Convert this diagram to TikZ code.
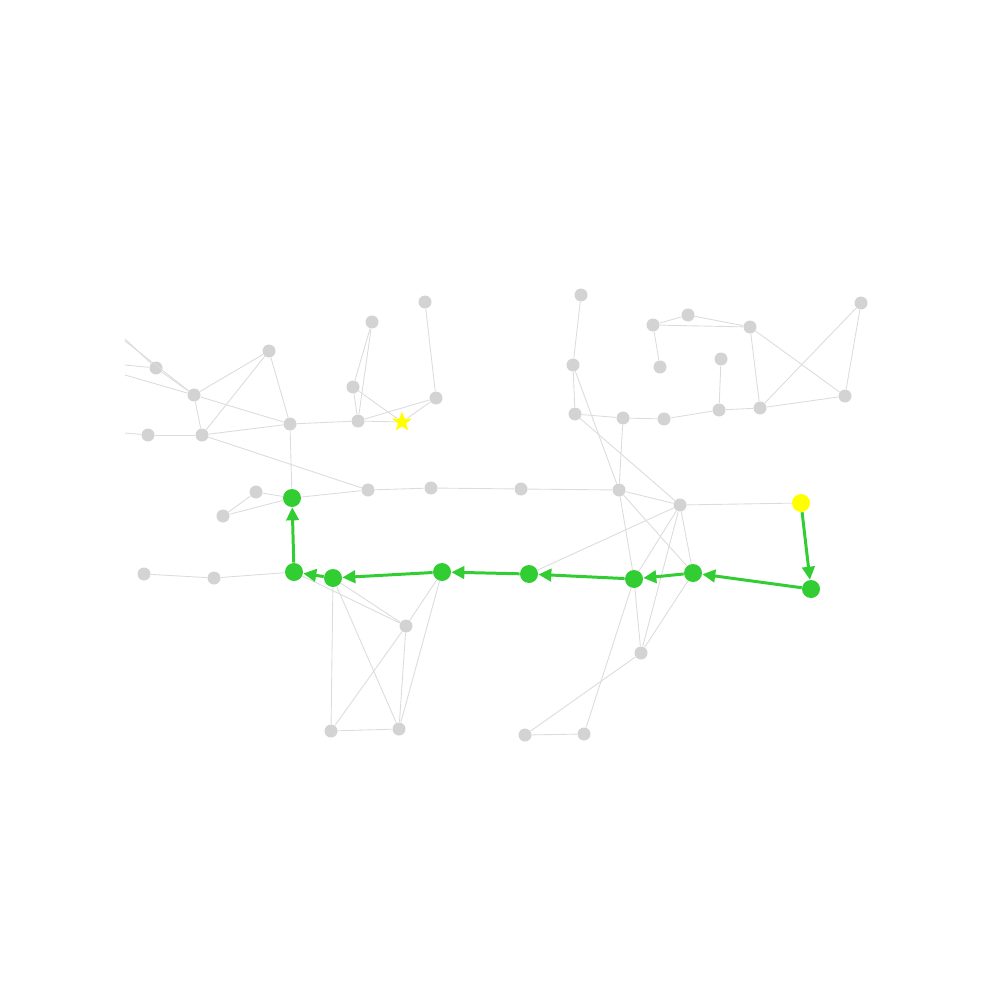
\documentclass[tikz,border=0pt]{standalone}
\usetikzlibrary{arrows.meta,shapes.geometric}
\definecolor{vgray}{HTML}{D3D3D3}
\definecolor{egray}{HTML}{DCDCDC}
\definecolor{pgreen}{HTML}{32CD32}
\definecolor{gyellow}{HTML}{FFFF00}
\begin{document}
\begin{tikzpicture}[x=0.02cm,y=-0.02cm,
  >={Triangle[length=2.6mm,width=2.5mm]},
  vtx/.style={circle, fill=vgray, inner sep=0pt, minimum size=2.6mm},
  hit/.style={circle, fill=pgreen, inner sep=0pt, minimum size=3.6mm},
  goal/.style={circle, fill=gyellow, inner sep=0pt, minimum size=3.6mm},
  src/.style={star, star points=5, star point ratio=2.4, fill=gyellow, inner sep=0pt, minimum size=4.2mm},
  ed/.style={draw=egray, line width=0.5pt},
  pth/.style={draw=pgreen, line width=1.7pt, ->},
]
\useasboundingbox (0,0) rectangle (1000,1000);
% ---------------- off-screen ends ----------------
\coordinate (xa) at (125,339);
\coordinate (xb) at (125,341);
\coordinate (xc) at (125,365);
\coordinate (xd) at (125,375);
\coordinate (xe) at (125,433);
% ---------------- left cluster ----------------
\node[vtx] (a1) at (156,368) {};
\node[vtx] (a2) at (194,395) {};
\node[vtx] (a3) at (269,351) {};
\node[vtx] (a4) at (148,435) {};
\node[vtx] (a5) at (202,435) {};
\node[vtx] (a6) at (290,424) {};
\node[vtx] (a7) at (372,322) {};
\node[vtx] (a8) at (353,387) {};
\node[vtx] (a9) at (358,421) {};
\node[vtx] (a10) at (425,302) {};
\node[vtx] (a11) at (436,398) {};
\node[src] (st) at (402,422) {};
\node[vtx] (a12) at (256,492) {};
\node[vtx] (a13) at (223,516) {};
\node[vtx] (a14) at (368,490) {};
\node[vtx] (a15) at (431,488) {};
\node[vtx] (a16) at (521,489) {};
% ---------------- lower left ----------------
\node[vtx] (c1) at (144,574) {};
\node[vtx] (c2) at (214,578) {};
\node[vtx] (c3) at (406,626) {};
\node[vtx] (c4) at (331,731) {};
\node[vtx] (c5) at (399,729) {};
% ---------------- right cluster ----------------
\node[vtx] (b1) at (619,490) {};
\node[vtx] (b2) at (680,505) {};
\node[vtx] (d1) at (641,653) {};
\node[vtx] (d2) at (525,735) {};
\node[vtx] (d3) at (584,734) {};
\node[vtx] (e1) at (581,295) {};
\node[vtx] (e2) at (573,365) {};
\node[vtx] (e3) at (575,414) {};
\node[vtx] (e4) at (623,418) {};
\node[vtx] (e5) at (664,419) {};
\node[vtx] (e6) at (719,410) {};
\node[vtx] (e7) at (760,408) {};
\node[vtx] (e8) at (845,396) {};
\node[vtx] (e9) at (861,303) {};
\node[vtx] (e10) at (653,325) {};
\node[vtx] (e11) at (688,315) {};
\node[vtx] (e12) at (750,327) {};
\node[vtx] (e13) at (660,367) {};
\node[vtx] (e14) at (721,359) {};
% ---------------- path ----------------
\node[goal] (y) at (801,503) {};
\node[hit] (g9) at (811,589) {};
\node[hit] (g8) at (693,573) {};
\node[hit] (g7) at (634,579) {};
\node[hit] (g6) at (529,574) {};
\node[hit] (g5) at (442,572) {};
\node[hit] (g4) at (333,578) {};
\node[hit] (g3) at (294,572) {};
\node[hit] (g1) at (292,498) {};
% ---------------- edges ----------------
\foreach \u/\v in {xa/a1,xb/a2,xc/a1,xd/a2,xe/a4,a1/a2,a2/a3,a2/a5,a2/a6,a3/a5,a3/a6,
  a4/a5,a5/a6,a5/a14,a6/a9,a6/g1,a7/a8,a7/a9,a8/a9,a8/st,a9/st,a9/a11,a10/a11,a11/st,
  a12/g1,a13/g1,a12/a13,g1/a14,a14/a15,a15/a16,a16/b1,
  c1/c2,c2/g3,g3/c3,g4/c3,g4/c4,g4/c5,c3/c4,c3/c5,g5/c3,g5/c5,c4/c5,
  b1/b2,b1/g8,b1/g7,b2/y,b2/g6,b2/g7,b2/d1,b2/g8,g7/d1,g7/d3,g8/d1,d1/d2,d2/d3,
  e1/e2,e2/e3,e2/b1,e3/e4,e3/b2,e4/b1,e4/e5,e5/e6,e6/e14,e6/e7,e7/e12,e7/e9,e7/e8,
  e8/e9,e8/e12,e10/e11,e11/e12,e10/e12,e10/e13}
  \draw[ed] (\u) -- (\v);
\foreach \u/\v in {y/g9,g9/g8,g8/g7,g7/g6,g6/g5,g5/g4,g4/g3,g3/g1}
  \draw[pth] (\u) -- (\v);
\end{tikzpicture}
\end{document}
